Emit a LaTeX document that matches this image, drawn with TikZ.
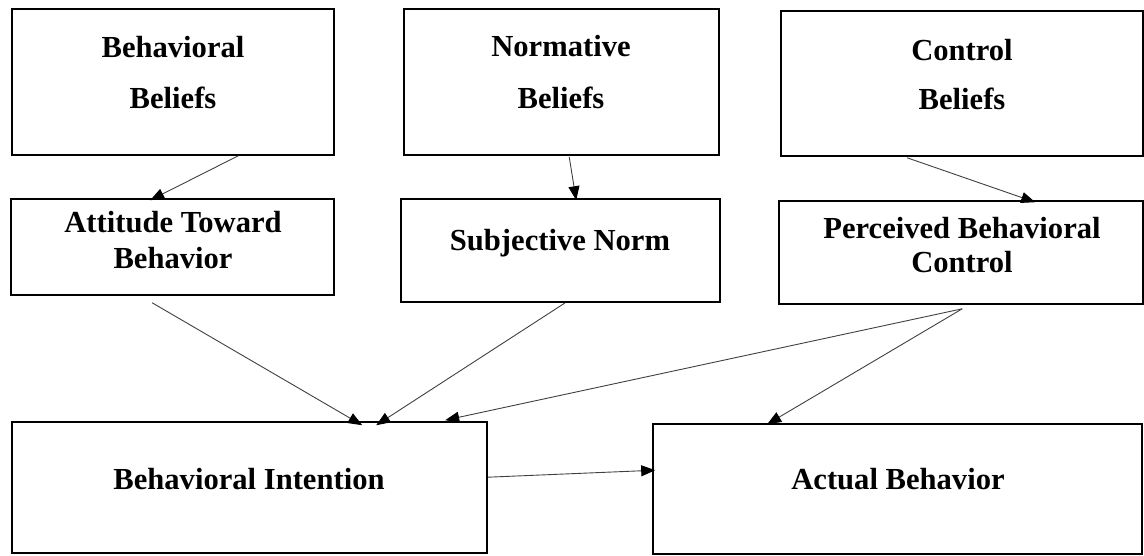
\documentclass[tikz,border=0pt]{standalone}
\usepackage{fontspec}
\setmainfont{Liberation Serif}
\usetikzlibrary{arrows.meta,calc}
\begin{document}
\begin{tikzpicture}[x=1pt,y=-1pt,
  box/.style={draw=black,line width=1.6pt,inner sep=0pt,fill=white},
  txt/.style={font=\fontsize{30.6}{36}\selectfont\bfseries,inner sep=0pt,anchor=base},
  arr/.style={draw=black!75,line width=0.9pt,-{Triangle[length=14pt,width=11pt,color=black]}}]
\useasboundingbox (0,0) rectangle (1144,555);
% boxes
\node[box,minimum width=322pt,minimum height=146pt] (bb) at (173,82) {};
\node[box,minimum width=323pt,minimum height=96pt] (atb) at (172.5,247) {};
\node[box,minimum width=315pt,minimum height=146pt] (nb) at (561.5,82) {};
\node[box,minimum width=319pt,minimum height=103pt] (sn) at (560.5,250.5) {};
\node[box,minimum width=362pt,minimum height=145pt] (cb) at (962,83.5) {};
\node[box,minimum width=364pt,minimum height=103pt] (pbc) at (961,252.5) {};
\node[box,minimum width=475pt,minimum height=131pt] (bi) at (249.5,487.5) {};
\node[box,minimum width=489pt,minimum height=130pt] (ab) at (897.5,489) {};
% texts
\node[txt] (t1) at (173,57) {Behavioral};
\node[txt] (t2) at (173,108) {Beliefs};
\node[txt] (t3) at (173,232) {Attitude Toward};
\node[txt] (t4) at (173,268) {Behavior};
\node[txt] (t5) at (561,56) {Normative};
\node[txt] (t6) at (561,108) {Beliefs};
\node[txt] (t7) at (560,250) {Subjective Norm};
\node[txt] (t8) at (962,60) {Control};
\node[txt] (t9) at (962,109) {Beliefs};
\node[txt] (t10) at (962,238) {Perceived Behavioral};
\node[txt] (t11) at (962,272) {Control};
\node[txt] (t12) at (249,489) {Behavioral Intention};
\node[txt] (t13) at (898,489) {Actual Behavior};
% connectors
\draw[arr] ($(bb.south west)+(227,0)$) -- ($(atb.north west)+(140,2)$);
\draw[arr] ($(nb.south west)+(166,1)$) -- ($(sn.north west)+(176,2)$);
\draw[arr] ($(cb.south west)+(127,1)$) -- ($(pbc.north west)+(257,2)$);
\draw[arr] ($(atb.south west)+(142,7)$) -- ($(bi.north west)+(351,4)$);
\draw[arr] ($(sn.south west)+(165,0)$) -- ($(bi.north west)+(365,4)$);
\coordinate (p) at ($(pbc.south west)+(184,4)$);
\draw[arr] (p) -- ($(bi.north west)+(434,-1)$);
\draw[arr] (p) -- ($(ab.north west)+(115,1)$);
\draw[arr] ($(bi.north east)+(0,56)$) -- ($(ab.north west)+(3,47)$);
\end{tikzpicture}
\end{document}
